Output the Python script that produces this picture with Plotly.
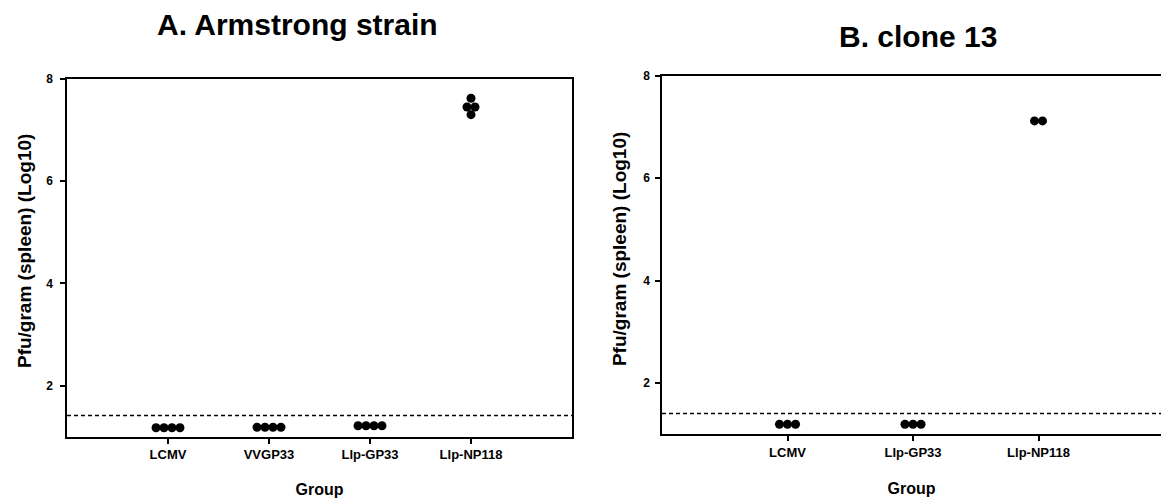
import plotly.graph_objects as go

# Panel A: Armstrong strain
groups_a = ["LCMV", "VVGP33", "Llp-GP33", "Llp-NP118"]
values_a = [
    [1.18, 1.18, 1.18, 1.18],
    [1.19, 1.19, 1.19, 1.19],
    [1.22, 1.22, 1.22, 1.22],
    [7.62, 7.45, 7.45, 7.30],
]
limit_a = 1.42

# Panel B: clone 13
groups_b = ["LCMV", "Llp-GP33", "Llp-NP118"]
values_b = [
    [1.19, 1.19, 1.19],
    [1.19, 1.19, 1.19],
    [7.12, 7.12],
]
limit_b = 1.40

y_ticks = [2, 4, 6, 8]
y_range = [1.0, 8.0]
title_a = "A. Armstrong strain"
title_b = "B. clone 13"
y_title = "Pfu/gram (spleen) (Log10)"
x_title = "Group"

FONT = "Liberation Sans, Arial, sans-serif"
W, H = 1161, 498


def spread(vals, step):
    """Place equal values side by side around the category centre."""
    offs = []
    counts = {}
    for v in vals:
        counts[v] = counts.get(v, 0) + 1
    seen = {}
    for v in vals:
        i = seen.get(v, 0)
        seen[v] = i + 1
        offs.append((i - (counts[v] - 1) / 2) * step)
    return offs


fig = go.Figure()


def add_panel(groups, values, limit, xa, ya, ya_labels, step):
    xs, ys = [], []
    for gi, vals in enumerate(values):
        for off, v in zip(spread(vals, step), vals):
            xs.append(gi + off)
            ys.append(v)
    fig.add_trace(go.Scatter(
        x=xs, y=ys, mode="markers", xaxis=xa, yaxis=ya,
        marker=dict(color="black", size=9, line=dict(width=0)),
        showlegend=False, hoverinfo="skip",
    ))
    # detection limit, drawn on the overlaid label axis (same range)
    fig.add_trace(go.Scatter(
        x=[-1, len(groups) + 1], y=[limit, limit], mode="lines",
        xaxis=xa, yaxis=ya_labels,
        line=dict(color="black", width=1.5, dash="4px,3px"),
        showlegend=False, hoverinfo="skip",
    ))


add_panel(groups_a, values_a, limit_a, "x", "y", "y3", 0.079)
add_panel(groups_b, values_b, limit_b, "x2", "y2", "y4", 0.064)

axis_common = dict(
    showgrid=False, zeroline=False, showline=True, linecolor="black",
    linewidth=1.8, ticks="outside", ticklen=5, tickwidth=1.5,
    tickcolor="black",
)


def px_x(p):
    return p / W


def px_y(p):
    return 1 - p / H


xtick_font = dict(size=13, family=FONT, weight="bold")
ytick_font = dict(size=12, family=FONT, weight="bold")

# y tick numbers sit well left of the ticks: they live on a free axis
label_axis = dict(
    showgrid=False, zeroline=False, showline=False, ticks="",
    range=y_range, tickvals=y_ticks, tickfont=ytick_font, anchor="free",
)

fig.update_layout(
    width=W, height=H,
    margin=dict(l=0, r=0, t=0, b=0),
    paper_bgcolor="white", plot_bgcolor="white",
    font=dict(family=FONT, color="black"),
    xaxis=dict(
        **axis_common, domain=[px_x(67), px_x(572)], range=[-1, 4],
        tickvals=list(range(len(groups_a))), ticktext=groups_a,
        tickfont=xtick_font, mirror=True, anchor="y",
        title=dict(text=f"<b>{x_title}</b>", font=dict(size=16), standoff=24),
    ),
    yaxis=dict(
        **axis_common, domain=[px_y(437), px_y(73)], range=y_range,
        tickvals=y_ticks, showticklabels=False, mirror=True, anchor="x",
    ),
    yaxis3=dict(**label_axis, overlaying="y", position=px_x(53)),
    xaxis2=dict(
        **axis_common, domain=[px_x(662), 1.0], range=[-1, 2.976],
        tickvals=list(range(len(groups_b))), ticktext=groups_b,
        tickfont=xtick_font, mirror=True, anchor="y2",
        title=dict(text=f"<b>{x_title}</b>", font=dict(size=16), standoff=24),
    ),
    yaxis2=dict(
        **axis_common, domain=[px_y(434), px_y(70)], range=y_range,
        tickvals=y_ticks, showticklabels=False, anchor="x2",
    ),
    yaxis4=dict(**label_axis, overlaying="y2", position=px_x(650)),
    annotations=[
        dict(text=f"<b>{title_a}</b>", x=px_x(155), y=px_y(18),
             xref="paper", yref="paper", xanchor="left", yanchor="middle",
             showarrow=False, font=dict(size=30, family=FONT)),
        dict(text=f"<b>{title_b}</b>", x=px_x(918), y=px_y(30),
             xref="paper", yref="paper", xanchor="center", yanchor="middle",
             showarrow=False, font=dict(size=30, family=FONT)),
        dict(text=f"<b>{y_title}</b>", x=px_x(24), y=px_y(248),
             xref="paper", yref="paper", xanchor="center", yanchor="middle",
             textangle=-90, showarrow=False, font=dict(size=19, family=FONT)),
        dict(text=f"<b>{y_title}</b>", x=px_x(619), y=px_y(246),
             xref="paper", yref="paper", xanchor="center", yanchor="middle",
             textangle=-90, showarrow=False, font=dict(size=19, family=FONT)),
    ],
)

fig.write_html("out.html")
